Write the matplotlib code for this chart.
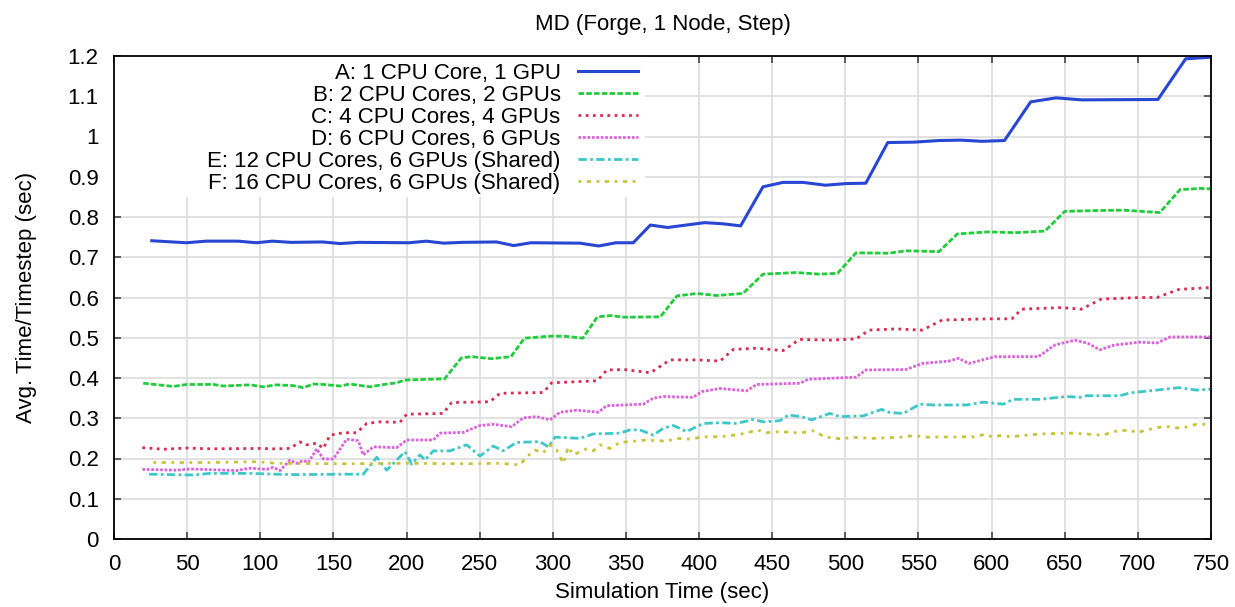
import matplotlib
matplotlib.use("Agg")
from matplotlib import pyplot as plt
from matplotlib.patches import Rectangle

plt.rcParams['font.family'] = ['Liberation Sans', 'DejaVu Sans']
plt.rcParams['font.size'] = 16

# A: 1 CPU Core, 1 GPU
a_x = [25.8, 49.4, 63, 84.7, 97.4, 108.3, 121, 142.7, 154.5, 167.2, 201.7, 213.5, 225.3, 238, 261.6,
       273.3, 285, 318.6, 331.4, 343.2, 355, 366.7, 378.5, 403.9, 416.6, 428.4, 443.7, 457.4, 471, 486.4,
       500.4, 514, 529, 547, 564, 578.9, 593.4, 608.8, 626.7, 644, 661.6, 713.7, 732.7, 750]
a_y = [0.741, 0.736, 0.740, 0.740, 0.736, 0.740, 0.737, 0.738, 0.734, 0.737, 0.736, 0.740, 0.735, 0.737, 0.738,
       0.729, 0.736, 0.735, 0.728, 0.736, 0.736, 0.780, 0.774, 0.786, 0.783, 0.778, 0.875, 0.886, 0.886, 0.879,
       0.883, 0.884, 0.985, 0.986, 0.990, 0.991, 0.988, 0.990, 1.086, 1.096, 1.091, 1.092, 1.193, 1.197]

# B: 2 CPU Cores, 2 GPUs
b_x = [20, 40.6, 49.7, 67.9, 74.7, 93, 102, 111, 122.6, 129.4, 136.3, 143, 154.5, 161.3, 175, 179.6, 186.4,
       193.2, 199, 226, 237.5, 244.3, 257.9, 271.4, 280.6, 298.8, 307.7, 320.5, 330.5, 339.5, 348.6, 373.5,
       384.9, 398.5, 412, 430, 443.7, 466.5, 482.3, 494.6, 507.3, 529.8, 541.3, 564, 576.6, 597.9, 616, 636.5,
       650, 671.8, 690, 715, 728.8, 742.5, 750]
b_y = [0.387, 0.379, 0.384, 0.384, 0.380, 0.383, 0.378, 0.383, 0.381, 0.376, 0.385, 0.384, 0.380, 0.385, 0.378,
       0.381, 0.385, 0.388, 0.395, 0.398, 0.450, 0.453, 0.448, 0.453, 0.499, 0.504, 0.504, 0.499, 0.552, 0.555,
       0.551, 0.552, 0.604, 0.610, 0.605, 0.610, 0.658, 0.662, 0.658, 0.660, 0.711, 0.710, 0.716, 0.714, 0.758,
       0.763, 0.761, 0.765, 0.814, 0.816, 0.817, 0.811, 0.868, 0.871, 0.870]

# C: 4 CPU Cores, 4 GPUs
c_x = [19.4, 33.7, 49.7, 65.6, 99.8, 108.9, 120.3, 127.2, 131.7, 138.6, 143.1, 147.7, 156.8, 165.9, 172.8,
       181.9, 195.5, 200.1, 225, 230.9, 257, 263.9, 293.5, 299.2, 330.3, 337, 348.7, 366.7, 380.3, 398.4,
       414.3, 423.4, 439.2, 457.4, 468.7, 489, 507.3, 516.3, 534.5, 552.6, 566.2, 597.9, 613.8, 620.6, 647.8,
       661.4, 675, 701.4, 713, 728, 750]
c_y = [0.227, 0.223, 0.226, 0.224, 0.225, 0.224, 0.225, 0.241, 0.234, 0.238, 0.225, 0.258, 0.264, 0.264, 0.287,
       0.291, 0.290, 0.310, 0.312, 0.339, 0.341, 0.362, 0.364, 0.388, 0.393, 0.420, 0.421, 0.413, 0.445, 0.445,
       0.442, 0.471, 0.474, 0.468, 0.496, 0.494, 0.497, 0.519, 0.522, 0.519, 0.544, 0.547, 0.547, 0.571, 0.575,
       0.571, 0.596, 0.600, 0.600, 0.620, 0.625]

# D: 6 CPU Cores, 6 GPUs
d_x = [19.4, 42.9, 52, 83.9, 93, 104.4, 108.9, 113.5, 120.3, 124.9, 129.4, 132.8, 138.6, 143.1, 150, 159.1,
       167, 170.4, 177.3, 193.3, 200.1, 218.3, 222.9, 238.8, 250.2, 259.3, 271.9, 279.8, 289, 298.1, 304.9,
       316.3, 331.1, 336.8, 361.9, 368.7, 375.5, 396, 401.8, 414.3, 432.5, 439.4, 469, 474.7, 507.3, 514.1,
       541.3, 552.6, 570.7, 577.5, 584.3, 602.4, 631.9, 643.3, 656.9, 665.9, 674, 684, 701.4, 713, 722, 750]
d_y = [0.173, 0.171, 0.174, 0.170, 0.176, 0.173, 0.178, 0.170, 0.196, 0.188, 0.195, 0.190, 0.224, 0.199, 0.199,
       0.248, 0.244, 0.209, 0.229, 0.227, 0.246, 0.246, 0.263, 0.265, 0.282, 0.285, 0.279, 0.301, 0.304, 0.296,
       0.315, 0.320, 0.315, 0.331, 0.335, 0.350, 0.354, 0.352, 0.366, 0.374, 0.368, 0.384, 0.387, 0.397, 0.402,
       0.420, 0.421, 0.436, 0.442, 0.449, 0.436, 0.453, 0.453, 0.482, 0.494, 0.486, 0.470, 0.482, 0.489, 0.487,
       0.502, 0.502]

# E: 12 CPU Cores, 6 GPUs (Shared)
e_x = [24, 54.2, 65.6, 93, 111.2, 124.9, 156.8, 170.4, 179.6, 186.4, 193.3, 199, 203.5, 209.2, 212.6, 218.3,
       229.7, 241.1, 250.2, 259.3, 266.1, 275.3, 291.2, 296.9, 301.5, 318.6, 327.7, 345.9, 352.8, 359.6, 368.7,
       375.5, 382.4, 391.5, 402.9, 414.3, 425.7, 437.1, 443.9, 455.3, 461, 470.1, 477, 489.5, 496.3, 512.3,
       524.8, 530.5, 539.6, 551, 560.1, 582.9, 594.3, 608, 614.8, 633, 651.3, 660.4, 665, 687.8, 694.6, 713,
       728, 740, 750]
e_y = [0.161, 0.159, 0.163, 0.163, 0.161, 0.160, 0.161, 0.161, 0.203, 0.171, 0.196, 0.217, 0.186, 0.209, 0.196,
       0.219, 0.219, 0.234, 0.206, 0.231, 0.219, 0.240, 0.242, 0.229, 0.253, 0.250, 0.261, 0.263, 0.271, 0.271,
       0.258, 0.275, 0.282, 0.267, 0.287, 0.289, 0.287, 0.297, 0.291, 0.294, 0.308, 0.304, 0.296, 0.312, 0.304,
       0.306, 0.322, 0.314, 0.312, 0.335, 0.333, 0.333, 0.340, 0.335, 0.347, 0.347, 0.354, 0.352, 0.356, 0.356,
       0.363, 0.370, 0.376, 0.370, 0.372]

# F: 16 CPU Cores, 6 GPUs (Shared)
f_x = [26.9, 65.6, 97.5, 111.2, 156.8, 200.1, 241.1, 263.9, 277.6, 282.1, 287.8, 293.5, 298.1, 302.7, 307.2,
       310.6, 314, 323.2, 327.7, 332.3, 339.1, 345.9, 352.8, 364.2, 377.8, 384.7, 393.8, 402.9, 414.3, 423.4,
       432.5, 439.4, 446.2, 455.3, 469, 477, 480.4, 485, 498.6, 503.2, 519.1, 537.4, 547.6, 555.6, 587.5,
       595.5, 601.1, 605.7, 612.6, 633, 655.8, 676.4, 683.2, 694.6, 699.2, 705, 718, 730, 740, 750]
f_y = [0.190, 0.190, 0.192, 0.188, 0.187, 0.188, 0.187, 0.188, 0.184, 0.204, 0.221, 0.214, 0.234, 0.221, 0.188,
       0.229, 0.209, 0.224, 0.219, 0.234, 0.225, 0.240, 0.242, 0.246, 0.243, 0.250, 0.248, 0.254, 0.254, 0.258,
       0.263, 0.271, 0.264, 0.267, 0.263, 0.269, 0.267, 0.254, 0.248, 0.253, 0.250, 0.253, 0.257, 0.253, 0.254,
       0.260, 0.253, 0.257, 0.254, 0.261, 0.263, 0.258, 0.267, 0.271, 0.264, 0.270, 0.280, 0.275, 0.285, 0.285]

labels = ["A: 1 CPU Core, 1 GPU", "B: 2 CPU Cores, 2 GPUs", "C: 4 CPU Cores, 4 GPUs",
          "D: 6 CPU Cores, 6 GPUs", "E: 12 CPU Cores, 6 GPUs (Shared)", "F: 16 CPU Cores, 6 GPUs (Shared)"]
x_ticks = list(range(0, 751, 50))
y_ticks = [0, 0.1, 0.2, 0.3, 0.4, 0.5, 0.6, 0.7, 0.8, 0.9, 1.0, 1.1, 1.2]
y_tick_labels = ["0", "0.1", "0.2", "0.3", "0.4", "0.5", "0.6", "0.7", "0.8", "0.9", "1", "1.1", "1.2"]

fig = plt.figure(figsize=(12.35, 6.07), dpi=100)
ax = fig.add_axes([114 / 1235, 1 - 539 / 607, 1097 / 1235, 483 / 607])

ax.plot(a_x, a_y, color="#2747d3", lw=2.2, label=labels[0])
ax.plot(b_x, b_y, color="#1fcc3a", lw=2.0, ls=(0, (2, 0.8)), label=labels[1])
ax.plot(c_x, c_y, color="#d92a50", lw=2.0, ls=(0, (1, 1.6)), label=labels[2])
ax.plot(d_x, d_y, color="#dc62dc", lw=2.0, ls=(0, (1, 0.6)), label=labels[3])
ax.plot(e_x, e_y, color="#3cc8c8", lw=2.0, ls=(0, (3, 1.2, 1, 1.2)), label=labels[4])
ax.plot(f_x, f_y, color="#c8c43a", lw=2.0, ls=(0, (1, 2, 1.5, 2)), label=labels[5])

ax.set_xlim(0, 750)
ax.set_ylim(0, 1.2)
ax.set_xticks(x_ticks)
ax.set_yticks(y_ticks)
ax.set_yticklabels(y_tick_labels)
ax.grid(True, color="#dedede", lw=1.3)
ax.set_axisbelow(True)
ax.tick_params(direction="in", top=True, right=True, length=5, width=1.2, color="#444444", pad=11)
for s in ax.spines.values():
    s.set_linewidth(1.3)

ax.set_title("MD (Forge, 1 Node, Step)", fontsize=16, pad=19)
ax.set_xlabel("Simulation Time (sec)", labelpad=5)
ax.set_ylabel("Avg. Time/Timestep (sec)", labelpad=22)

# opaque key area (hides the grid behind the legend)
ax.add_patch(Rectangle((0, 0.708), 0.484, 0.292, transform=ax.transAxes,
                       facecolor="white", edgecolor="none", zorder=1))

leg = ax.legend(loc="upper right", bbox_to_anchor=((645 - 114) / 1097, 1.0), borderaxespad=0,
                frameon=False, markerfirst=False,
                handlelength=2.7, handletextpad=0.8, labelspacing=0.05, borderpad=0.3)
for t in leg.get_texts():
    t.set_ha("right")

fig.savefig("out.png")
